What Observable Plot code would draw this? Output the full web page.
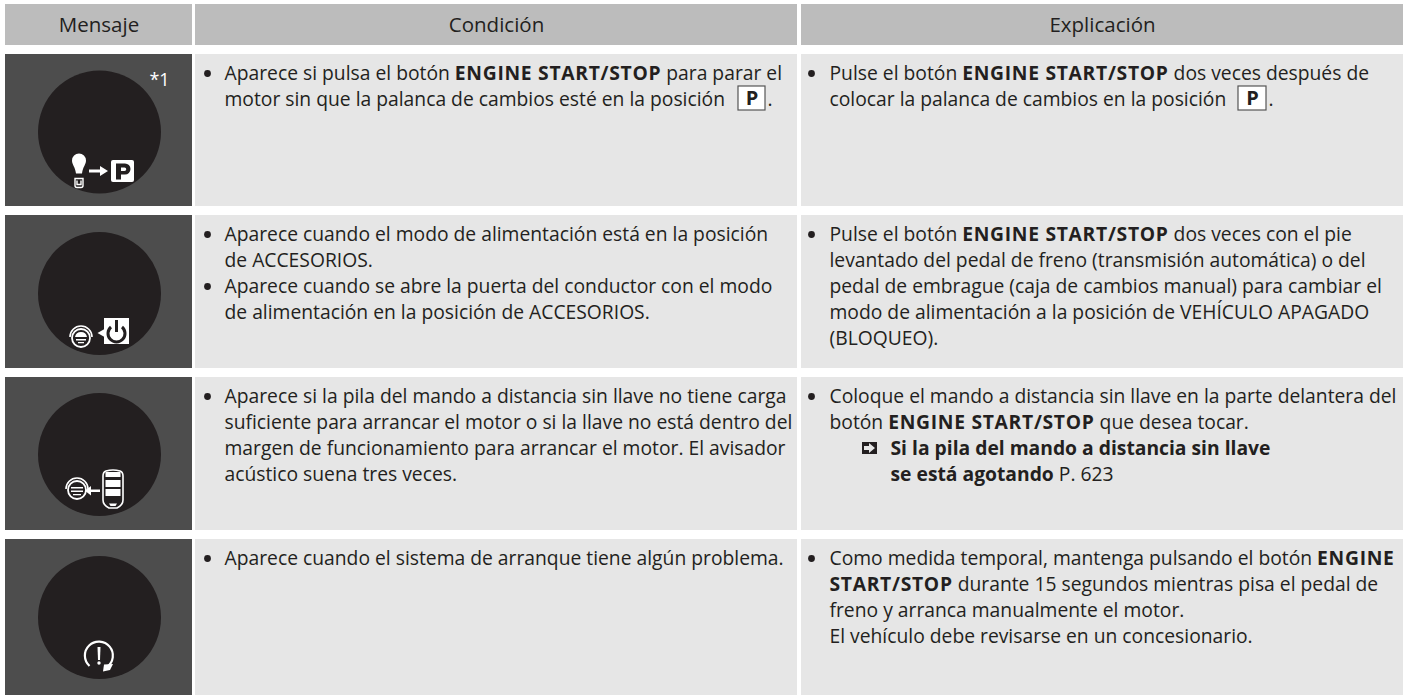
<!DOCTYPE html>
<html><head><meta charset="utf-8">
<script src="https://cdn.jsdelivr.net/npm/d3@7"></script>
<script src="https://cdn.jsdelivr.net/npm/@observablehq/plot@0.6"></script>
<style>html,body{margin:0;padding:0;background:#fff}svg{display:block}</style>
</head><body><div id="chart"></div>
<script>
const W = 1408, H = 695;
const FONT = "'Open Sans', sans-serif";
const INK = "#231f20";

// Table grid
const headers = ["Mensaje", "Condición", "Explicación"];
const colEdges = [[5, 192], [195, 797], [801, 1403]];
const headerEdge = [4, 45];
const rowEdges = [[54, 206], [215, 368], [377, 530], [539, 695]];
const circleY = [131.5, 293, 454, 617];
const circleX = 99;
const textX = [224, 829];
const bulletX = [207, 811];
const firstLineOffset = 19;
const lineStep = 26;

// Text lines: [row, line, bullet?, indent, text]
const conditionLines = [
  [0, 0, true, 0, "Aparece si pulsa el botón **ENGINE START/STOP** para parar el"],
  [0, 1, false, 0, "motor sin que la palanca de cambios esté en la posición"],
  [1, 0, true, 0, "Aparece cuando el modo de alimentación está en la posición"],
  [1, 1, false, 0, "de ACCESORIOS."],
  [1, 2, true, 0, "Aparece cuando se abre la puerta del conductor con el modo"],
  [1, 3, false, 0, "de alimentación en la posición de ACCESORIOS."],
  [2, 0, true, 0, "Aparece si la pila del mando a distancia sin llave no tiene carga"],
  [2, 1, false, 0, "suficiente para arrancar el motor o si la llave no está dentro del"],
  [2, 2, false, 0, "margen de funcionamiento para arrancar el motor. El avisador"],
  [2, 3, false, 0, "acústico suena tres veces."],
  [3, 0, true, 0, "Aparece cuando el sistema de arranque tiene algún problema."]
];
const explanationLines = [
  [0, 0, true, 0, "Pulse el botón **ENGINE START/STOP** dos veces después de"],
  [0, 1, false, 0, "colocar la palanca de cambios en la posición"],
  [1, 0, true, 0, "Pulse el botón **ENGINE START/STOP** dos veces con el pie"],
  [1, 1, false, 0, "levantado del pedal de freno (transmisión automática) o del"],
  [1, 2, false, 0, "pedal de embrague (caja de cambios manual) para cambiar el"],
  [1, 3, false, 0, "modo de alimentación a la posición de VEHÍCULO APAGADO"],
  [1, 4, false, 0, "(BLOQUEO)."],
  [2, 0, true, 0, "Coloque el mando a distancia sin llave en la parte delantera del"],
  [2, 1, false, 0, "botón **ENGINE START/STOP** que desea tocar."],
  [2, 2, false, 61, "**Si la pila del mando a distancia sin llave**"],
  [2, 3, false, 61, "**se está agotando** P. 623"],
  [3, 0, true, 0, "Como medida temporal, mantenga pulsando el botón **ENGINE**"],
  [3, 1, false, 0, "**START/STOP** durante 15 segundos mientras pisa el pedal de"],
  [3, 2, false, 0, "freno y arranca manualmente el motor."],
  [3, 3, false, 0, "El vehículo debe revisarse en un concesionario."]
];
// Gear-position boxes: [box left, box right, row, line, dot x]
const parkBoxes = [[738, 765, 0, 1, 767], [1238, 1266, 0, 1, 1268]];
const footnote = "*1";

const rowsText = [
  ...conditionLines.map(d => ({col: 0, row: d[0], line: d[1], bullet: d[2], indent: d[3], text: d[4]})),
  ...explanationLines.map(d => ({col: 1, row: d[0], line: d[1], bullet: d[2], indent: d[3], text: d[4]}))
].map(d => ({...d, x: textX[d.col] + d.indent, y: rowEdges[d.row][0] + firstLineOffset + d.line * lineStep}));
const lineY = (row, line) => rowEdges[row][0] + firstLineOffset + line * lineStep;

// Icon outlines, in pixels relative to each circle's centre
const iconPaths = [
  [
    {fill: "#fff", d: "M-27,29 a7,7 0 1 1 14,0 c0,4 -3,6 -4,13 l-6,0 c-1,-7 -4,-9 -4,-13z"},
    {stroke: "#fff", w: 1.4, d: "M-24,47 h8 v7 a2,2 0 0 1 -2,2 h-4 a2,2 0 0 1 -2,-2z M-22,49 v4 h4 v-4"},
    {fill: "#fff", d: "M-10,38 h11 v-3.5 l8,5 l-8,5 v-3.5 h-11z"},
    {fill: "#fff", d: "M14,28.5 h19 a2,2 0 0 1 2,2 v18 a2,2 0 0 1 -2,2 h-19 a2,2 0 0 1 -2,-2 v-18 a2,2 0 0 1 2,-2z"},
    {fill: INK, evenodd: true, d: "M17,32 h9 a5.5,5.5 0 0 1 0,11 h-4 v5 h-5z M22,36 v3.5 h3.5 a1.7,1.7 0 0 0 0,-3.5z"}
  ],
  [
    {stroke: "#fff", w: 1.6, d: "M-29,44 a11,11 0 0 1 22,0"},
    {stroke: "#fff", w: 1.8, d: "M-9,45 a9,9 0 1 1 -18,0 a9,9 0 1 1 18,0z"},
    {fill: "#fff", d: "M-24,44 h12 q-1,-5 -6,-5 q-5,0 -6,5z M-23,46 h10 v1.5 h-10z M-21,49 h6 v1.2 h-6z"},
    {fill: "#fff", d: "M-1.5,40 l7,-4 v8z"},
    {fill: "#fff", d: "M5,25 h25 v26 h-25z"},
    {stroke: INK, w: 3, d: "M12,34 a8.5,8.5 0 1 0 11,0"},
    {stroke: INK, w: 3, d: "M17.5,27 v12"}
  ],
  [
    {stroke: "#fff", w: 1.6, d: "M-33,35 a11,11 0 0 1 22,0"},
    {stroke: "#fff", w: 1.8, d: "M-13,36 a9,9 0 1 1 -18,0 a9,9 0 1 1 18,0z"},
    {fill: "#fff", d: "M-28,33 h12 v1.6 h-12z M-28,36.5 h12 v1.6 h-12z M-26,40 h8 v1.2 h-8z"},
    {fill: "#fff", d: "M1,35.5 h-9 v-3.5 l-6,4.7 l6,4.7 v-3.5 h9z"},
    {stroke: "#fff", w: 1.6, d: "M7,17 q7,-2 14,0 q3,1 3,5 v24 q0,5 -6,8 h-8 q-6,-3 -6,-8 v-24 q0,-4 3,-5z"},
    {fill: "#fff", d: "M6.5,18 h15 v5 h-15z M6.5,26 h15 v7 h-15z M6.5,35 h15 v7 h-15z M10,49.5 h8 l-1.5,2.5 h-5z"}
  ],
  [
    {stroke: "#fff", w: 2.2, d: "M-9.5,49 A14,14 0 1 1 8,50"},
    {fill: "#fff", d: "M5,47.5 l9,-0.5 l-3,6 l-7,1.5z"},
    {fill: "#fff", d: "M-1.5,30 h3 l-0.5,13 h-2z"},
    {fill: "#fff", d: "M-1.7,46 a1.7,1.7 0 1 0 3.4,0 a1.7,1.7 0 1 0 -3.4,0z"}
  ]
];
const linkArrow = {x: 862, y: 442, d: "M0,0 h15 v12 h-15z", a: "M2,4 h5 v-3 l6,5 l-6,5 v-3 h-5z"};

const svgMark = (build) => (index, {x, y}) => {
  const g = d3.create("svg:g");
  build(g, x, y);
  return g.node();
};

const chart = Plot.plot({
  width: W, height: H, margin: 0,
  style: {fontFamily: FONT, background: "#fff"},
  x: {domain: [0, W], range: [0, W], axis: null},
  y: {domain: [0, H], range: [0, H], axis: null},
  marks: [
    Plot.rect(colEdges.map((c, i) => ({c, label: headers[i]})), {
      x1: d => d.c[0], x2: d => d.c[1], y1: () => headerEdge[0], y2: () => headerEdge[1], fill: "#bcbcbc"
    }),
    Plot.rect(rowEdges.flatMap(r => colEdges.map((c, i) => ({r, c, i}))), {
      x1: d => d.c[0], x2: d => d.c[1], y1: d => d.r[0], y2: d => d.r[1],
      fill: d => d.i === 0 ? "#4d4d4d" : "#e6e6e6"
    }),
    Plot.dot(circleY, {x: () => circleX, y: d => d, r: 61.5, fill: INK}),
    svgMark((g, x, y) => {
      iconPaths.forEach((paths, i) => {
        const t = g.append("g").attr("transform", `translate(${x(circleX)},${y(circleY[i])})`);
        paths.forEach(p => t.append("path").attr("d", p.d)
          .attr("fill", p.fill || "none")
          .attr("fill-rule", p.evenodd ? "evenodd" : null)
          .attr("stroke", p.stroke || "none")
          .attr("stroke-width", p.w || null));
      });
      const a = g.append("g").attr("transform", `translate(${x(linkArrow.x)},${y(linkArrow.y)})`);
      a.append("path").attr("d", linkArrow.d).attr("fill", INK);
      a.append("path").attr("d", linkArrow.a).attr("fill", "#e6e6e6");
    }),
    Plot.text([footnote], {x: () => 159, y: () => 80, text: d => d, fill: "#fff", fontSize: 18, textAnchor: "middle"}),
    Plot.text(headers, {
      x: (d, i) => (colEdges[i][0] + colEdges[i][1]) / 2, y: () => 25, text: d => d,
      fontSize: 20.5, fill: INK, textAnchor: "middle"
    }),
    Plot.dot(rowsText.filter(d => d.bullet), {
      x: d => bulletX[d.col], y: d => d.y, r: 3.4, fill: INK
    }),
    Plot.text(rowsText, {
      x: "x", y: "y", text: "text", textAnchor: "start", fill: INK, fontSize: 19.3, lineAnchor: "middle"
    }),
    Plot.rect(parkBoxes, {
      x1: d => d[0], x2: d => d[1], y1: d => lineY(d[2], d[3]) - 13, y2: d => lineY(d[2], d[3]) + 11,
      fill: "#fff", stroke: "#555", strokeWidth: 1.2
    }),
    Plot.text(parkBoxes, {
      x: d => (d[0] + d[1]) / 2, y: d => lineY(d[2], d[3]) - 1,
      text: () => "**P**", fontSize: 20, fill: INK, textAnchor: "middle"
    }),
    Plot.text(parkBoxes, {
      x: d => d[4], y: d => lineY(d[2], d[3]),
      text: () => ".", fontSize: 19.3, fill: INK, textAnchor: "start"
    })
  ]
});

// Turn **bold** markup into real bold runs inside each text element
d3.select(chart).selectAll("text").each(function () {
  const s = this.textContent;
  if (!s.includes("**")) return;
  const el = d3.select(this);
  el.text(null);
  s.split("**").forEach((part, i) => {
    if (!part) return;
    const t = el.append("tspan").text(part);
    if (i % 2) {
      t.attr("font-weight", 700);
      if (part.length > 1 && part === part.toUpperCase()) t.attr("letter-spacing", "0.7px");
    }
  });
});
document.getElementById("chart").append(chart);
</script></body></html>
